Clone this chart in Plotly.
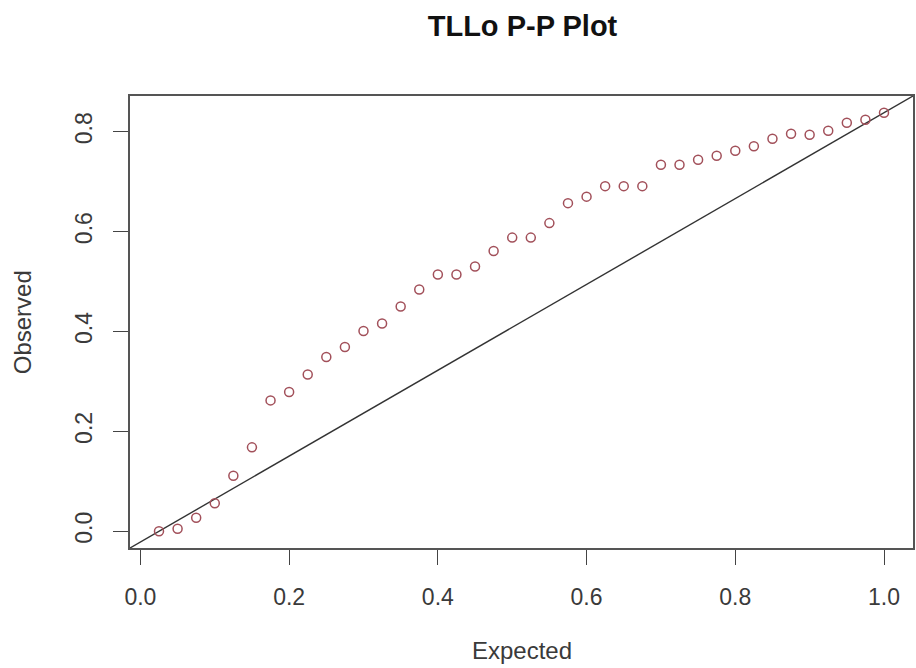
import plotly.graph_objects as go

title = "TLLo P-P Plot"
x_label = "Expected"
y_label = "Observed"

expected = [0.025, 0.05, 0.075, 0.1, 0.125, 0.15, 0.175, 0.2, 0.225, 0.25,
            0.275, 0.3, 0.325, 0.35, 0.375, 0.4, 0.425, 0.45, 0.475, 0.5,
            0.525, 0.55, 0.575, 0.6, 0.625, 0.65, 0.675, 0.7, 0.725, 0.75,
            0.775, 0.8, 0.825, 0.85, 0.875, 0.9, 0.925, 0.95, 0.975, 1.0]
observed = [0.000, 0.005, 0.027, 0.056, 0.111, 0.168, 0.262, 0.279, 0.314, 0.349,
            0.369, 0.401, 0.416, 0.450, 0.484, 0.514, 0.514, 0.530, 0.561, 0.588,
            0.588, 0.617, 0.657, 0.670, 0.691, 0.691, 0.691, 0.734, 0.734, 0.744,
            0.752, 0.762, 0.771, 0.786, 0.796, 0.794, 0.802, 0.818, 0.824, 0.838]

x_ticks = [0.0, 0.2, 0.4, 0.6, 0.8, 1.0]
y_ticks = [0.0, 0.2, 0.4, 0.6, 0.8]

W, H = 916, 668
ML, MR, MT, MB = 130, 1, 96, 120
FONT = "Liberation Sans, Arial, sans-serif"

# R-style 4% axis extension
def ext(vals):
    lo, hi = min(vals), max(vals)
    d = (hi - lo) * 0.04
    return [lo - d, hi + d]

xr = ext(expected)
yr = ext(observed)

# reference line through first and last points
slope = (observed[-1] - observed[0]) / (expected[-1] - expected[0])
intercept = observed[0] - slope * expected[0]
line_x = [xr[0], xr[1]]
line_y = [intercept + slope * v for v in line_x]

fig = go.Figure()
fig.add_trace(go.Scatter(x=line_x, y=line_y, mode="lines",
                         line=dict(color="#333333", width=1.4),
                         hoverinfo="skip", showlegend=False))
fig.add_trace(go.Scatter(x=expected, y=observed, mode="markers",
                         marker=dict(symbol="circle-open", size=9,
                                     color="#a2505a", line=dict(width=1.5)),
                         showlegend=False))

axis_common = dict(showline=True, mirror=True, linecolor="#555555", linewidth=1.8,
                   ticks="outside", ticklen=15, tickwidth=1.4, tickcolor="#444444",
                   showgrid=False, zeroline=False, ticklabelstandoff=12,
                   tickfont=dict(family=FONT, size=23, color="#3a3a3a"))

plot_cx = ML + (W - ML - MR) / 2
plot_cy = MT + (H - MT - MB) / 2

fig.update_layout(
    width=W, height=H,
    margin=dict(l=ML, r=MR, t=MT, b=MB),
    paper_bgcolor="white", plot_bgcolor="white",
    title=dict(text=f"<b>{title}</b>", x=plot_cx / W, xanchor="center",
               y=1 - 26 / H, yanchor="middle",
               font=dict(family=FONT, size=29, color="#111111")),
    xaxis=dict(range=xr, tickvals=x_ticks, ticktext=[f"{v:.1f}" for v in x_ticks],
               **axis_common),
    yaxis=dict(range=yr, tickvals=y_ticks, ticktext=[f"{v:.1f}" for v in y_ticks],
               tickangle=-90, **axis_common),
    annotations=[
        dict(text=x_label, xref="paper", yref="paper",
             x=(plot_cx - ML) / (W - ML - MR), y=-(650 - (H - MB)) / (H - MT - MB),
             xanchor="center", yanchor="middle", showarrow=False,
             font=dict(family=FONT, size=24, color="#3a3a3a")),
        dict(text=y_label, xref="paper", yref="paper",
             x=-(ML - 22) / (W - ML - MR), y=0.5, textangle=-90,
             xanchor="center", yanchor="middle", showarrow=False,
             font=dict(family=FONT, size=24, color="#3a3a3a")),
    ],
)

fig.write_html("out.html")
